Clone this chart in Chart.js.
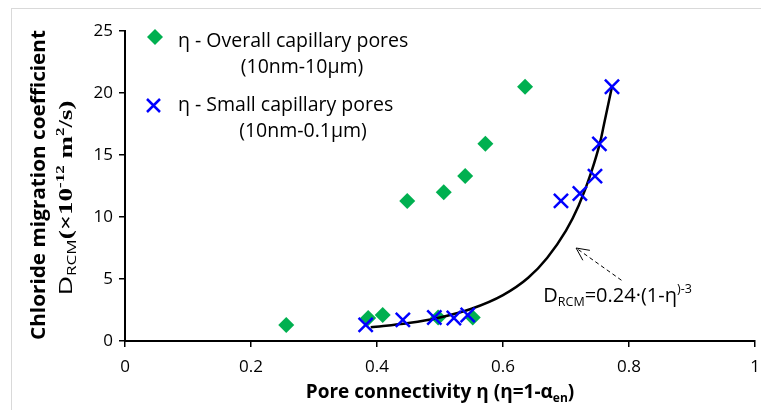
<!DOCTYPE html>
<html>
<head>
<meta charset="utf-8">
<script src="https://cdn.jsdelivr.net/npm/chart.js@4"></script>
<style>
  html, body { margin: 0; padding: 0; background: #fff; }
  #wrap { width: 761px; height: 410px; }
</style>
</head>
<body>
<div id="wrap"><canvas id="chart" width="761" height="410"></canvas></div>
<script>
// values
const overallX = [0.256, 0.386, 0.409, 0.448, 0.497, 0.506, 0.540, 0.552, 0.572, 0.635];
const overallY = [1.3, 1.85, 2.1, 11.3, 1.9, 12.0, 13.3, 1.9, 15.9, 20.5];
const smallX = [0.382, 0.441, 0.491, 0.522, 0.544, 0.692, 0.722, 0.746, 0.753, 0.773];
const smallY = [1.3, 1.7, 1.9, 1.85, 2.1, 11.3, 11.9, 13.3, 15.9, 20.5];
// fitted curve
const fitX = [0.39, 0.45, 0.50, 0.55, 0.60, 0.64, 0.67, 0.70, 0.72, 0.74, 0.755, 0.76, 0.773];
const fitY = [1.1, 1.45, 1.9, 2.6, 3.7, 5.1, 6.7, 8.9, 10.9, 13.6, 16.2, 17.4, 20.5];
const xTickLabels = ['0', '0.2', '0.4', '0.6', '0.8', '1'];
const yTickLabels = ['0', '5', '10', '15', '20', '25'];

// annotation anchor points, in data units
const arrowTip = [0.716, 7.5];
const arrowTail = [0.788, 4.9];
const eqPos = [0.664, 3.15];

const sans = '"Open Sans", sans-serif';
const serif = '"Liberation Serif", "Times New Roman", serif';

function pts(xs, ys) {
  return xs.map((x, i) => ({ x: x, y: ys[i] }));
}

// draw a row of text pieces with different fonts
// centred on x unless left is set; stretched to len if given
function drawRuns(ctx, parts, x, y, left, len) {
  let w = 0;
  parts.forEach(p => { ctx.font = p.f; w += ctx.measureText(p.t).width; });
  const k = len ? len / w : 1;
  ctx.save();
  ctx.translate(x, y);
  ctx.scale(k, 1);
  let cx = left ? 0 : -w / 2;
  parts.forEach(p => {
    ctx.font = p.f;
    ctx.fillText(p.t, cx, p.dy || 0);
    cx += ctx.measureText(p.t).width;
  });
  ctx.restore();
}

const decorations = {
  id: 'decorations',
  beforeDraw(chart) {
    const ctx = chart.ctx;
    ctx.save();
    ctx.strokeStyle = '#d9d9d9';
    ctx.lineWidth = 1;
    ctx.strokeRect(11.5, 8.5, 800, 500);
    ctx.restore();
  },
  afterDraw(chart) {
    const ctx = chart.ctx;
    const xs = chart.scales.x, ys = chart.scales.y;
    ctx.save();
    ctx.fillStyle = '#000';
    ctx.textBaseline = 'alphabetic';
    ctx.textAlign = 'left';

    // legend
    ctx.fillStyle = '#00b050';
    ctx.beginPath();
    ctx.moveTo(155, 29); ctx.lineTo(163, 37); ctx.lineTo(155, 45); ctx.lineTo(147, 37);
    ctx.closePath(); ctx.fill();
    ctx.strokeStyle = '#0000ff';
    ctx.lineWidth = 2.5;
    ctx.beginPath();
    ctx.moveTo(147, 99); ctx.lineTo(160, 112);
    ctx.moveTo(160, 99); ctx.lineTo(147, 112);
    ctx.stroke();
    ctx.fillStyle = '#000';
    ctx.font = '19.5px ' + sans;
    ctx.fillText('\u03b7 - Overall capillary pores', 178, 47);
    ctx.fillText('\u03b7 - Small capillary pores', 178, 111);
    ctx.textAlign = 'center';
    ctx.fillText('(10nm-10\u00b5m)', 302, 73);
    ctx.fillText('(10nm-0.1\u00b5m)', 303, 137);
    ctx.textAlign = 'left';

    // x axis title
    const bx = 'bold 19px ' + sans;
    drawRuns(ctx, [
      { t: 'Pore connectivity \u03b7 (\u03b7=1-\u03b1', f: bx },
      { t: 'en', f: 'bold 12px ' + sans, dy: 4 },
      { t: ')', f: bx }
    ], 440, 398);

    // y axis title, two rotated lines
    ctx.save();
    ctx.translate(45, 185);
    ctx.rotate(-Math.PI / 2);
    drawRuns(ctx, [{ t: 'Chloride migration coefficient', f: 'bold 20px ' + sans }], 0, 0, false, 310);
    ctx.restore();
    ctx.save();
    ctx.translate(72, 198);
    ctx.rotate(-Math.PI / 2);
    const bs = 'bold 19px ' + serif;
    drawRuns(ctx, [
      { t: 'D', f: '19px ' + sans },
      { t: 'RCM', f: '12px ' + sans, dy: 4 },
      { t: '(\u00d710', f: bs },
      { t: '-12', f: 'bold 12px ' + serif, dy: -8 },
      { t: ' m', f: bs },
      { t: '2', f: 'bold 12px ' + serif, dy: -8 },
      { t: '/s)', f: bs }
    ], 0, 0, false, 195);
    ctx.restore();

    // equation and dashed arrow
    const tx = xs.getPixelForValue(arrowTip[0]), ty = ys.getPixelForValue(arrowTip[1]);
    const sx = xs.getPixelForValue(arrowTail[0]), sy = ys.getPixelForValue(arrowTail[1]);
    ctx.strokeStyle = '#000';
    ctx.lineWidth = 1;
    ctx.setLineDash([4, 3]);
    ctx.beginPath(); ctx.moveTo(sx, sy); ctx.lineTo(tx, ty); ctx.stroke();
    ctx.setLineDash([]);
    const a = Math.atan2(sy - ty, sx - tx);
    ctx.beginPath();
    ctx.moveTo(tx + 14 * Math.cos(a - 0.45), ty + 14 * Math.sin(a - 0.45));
    ctx.lineTo(tx, ty);
    ctx.lineTo(tx + 14 * Math.cos(a + 0.45), ty + 14 * Math.sin(a + 0.45));
    ctx.stroke();
    const ef = '20px ' + sans, es = '12.5px ' + sans;
    drawRuns(ctx, [
      { t: 'D', f: ef },
      { t: 'RCM', f: es, dy: 4 },
      { t: '=0.24\u00b7(1-\u03b7', f: ef },
      { t: ')-3', f: es, dy: -9 }
    ], xs.getPixelForValue(eqPos[0]), ys.getPixelForValue(eqPos[1]), true);
    ctx.restore();
  }
};

new Chart(document.getElementById('chart').getContext('2d'), {
  type: 'scatter',
  data: {
    datasets: [
      {
        label: 'Small capillary pores',
        data: pts(smallX, smallY),
        pointStyle: 'crossRot',
        pointRadius: 10,
        pointBorderWidth: 2.5,
        borderColor: '#0000ff',
        backgroundColor: '#0000ff',
        order: 0
      },
      {
        label: 'Fit',
        data: pts(fitX, fitY),
        showLine: true,
        cubicInterpolationMode: 'monotone',
        borderColor: '#000',
        borderWidth: 2.5,
        pointRadius: 0,
        order: 1
      },
      {
        label: 'Overall capillary pores',
        data: pts(overallX, overallY),
        pointStyle: 'rectRot',
        pointRadius: 8,
        pointBorderWidth: 0,
        borderColor: '#00b050',
        backgroundColor: '#00b050',
        order: 2
      }
    ]
  },
  options: {
    responsive: false,
    animation: false,
    layout: { autoPadding: false, padding: { top: 31, right: 6, left: 0, bottom: 0 } },
    plugins: { legend: { display: false }, tooltip: { enabled: false } },
    scales: {
      x: {
        type: 'linear',
        min: 0, max: 1,
        afterFit(s) { s.height = 69; s.paddingLeft = 0; s.paddingRight = 0; },
        afterBuildTicks(s) { s.ticks = xTickLabels.map(v => ({ value: +v })); },
        ticks: {
          callback: (v, i) => xTickLabels[i],
          color: '#000',
          font: { family: sans, size: 17 },
          padding: 10,
          maxRotation: 0
        },
        grid: { drawOnChartArea: false, drawTicks: true, tickLength: 6, color: '#000', lineWidth: 1.5 },
        border: { display: true, color: '#000', width: 2 }
      },
      y: {
        type: 'linear',
        min: 0, max: 25,
        afterFit(s) { s.width = 125; },
        afterBuildTicks(s) { s.ticks = yTickLabels.map(v => ({ value: +v })); },
        ticks: {
          callback: (v, i) => yTickLabels[i],
          color: '#000',
          font: { family: sans, size: 17 },
          padding: 6
        },
        grid: { drawOnChartArea: false, drawTicks: true, tickLength: 6, color: '#000', lineWidth: 1.5 },
        border: { display: true, color: '#000', width: 2 }
      }
    }
  },
  plugins: [decorations]
});
</script>
</body>
</html>
